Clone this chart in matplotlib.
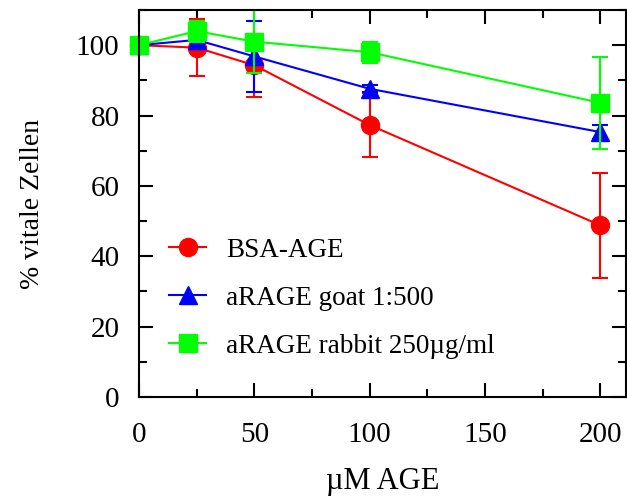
import matplotlib.pyplot as plt
from matplotlib.ticker import MultipleLocator

plt.rcParams['font.family'] = ['Liberation Serif', 'DejaVu Serif']

# concentrations (uM AGE)
conc = [0, 25, 50, 100, 200]

# % viable cells with errors
bsa_age = [100, 99.3, 94.3, 77.3, 48.8]
bsa_age_err = [0, 8.2, 9, 9, 15]
goat = [100, 101.5, 96.8, 87.6, 75.3]
goat_err = [0, 2.5, 10, 1, 2]
rabbit = [100, 104, 101, 98, 83.6]
rabbit_err = [0, 3, 9, 3, 13]

labels = ['BSA-AGE', 'aRAGE goat 1:500', 'aRAGE rabbit 250\u00b5g/ml']
colors = ['#ff0000', '#0000ff', '#00ff00']
markers = ['o', '^', 's']

fig = plt.figure(figsize=(6.27, 4.99), dpi=100)
ax = fig.add_axes([139 / 627, 1 - 397 / 499, 1 - 139 / 627 - 0.002, (397 - 10) / 499])

series = [(bsa_age, bsa_age_err), (goat, goat_err), (rabbit, rabbit_err)]
for (vals, errs), lab, col, mk in zip(series, labels, colors, markers):
    ax.errorbar(conc, vals, yerr=errs, fmt='none', ecolor=col,
                elinewidth=1.5, capsize=6, capthick=1.5, clip_on=False)
    ax.plot(conc, vals, color=col, marker=mk, markersize=13, linewidth=1.5,
            label=lab, clip_on=False)

ax.set_xlim(0, 211)
ax.set_ylim(0, 110)
ax.xaxis.set_major_locator(MultipleLocator(50))
ax.xaxis.set_minor_locator(MultipleLocator(25))
ax.yaxis.set_major_locator(MultipleLocator(20))
ax.yaxis.set_minor_locator(MultipleLocator(10))
ax.tick_params(which='both', direction='in', top=True, right=True, width=1.5, labelsize=21)
ax.tick_params(which='major', length=10)
ax.tick_params(which='minor', length=6)
ax.tick_params(axis='x', which='major', pad=18)
ax.tick_params(axis='y', which='major', pad=14)
for s in ax.spines.values():
    s.set_linewidth(1.5)

ax.set_xlabel('\u00b5M AGE', fontsize=22, labelpad=14)
ax.set_ylabel('% vitale Zellen', fontsize=20, labelpad=22)

ax.legend(loc='upper left', bbox_to_anchor=(0.04, 0.44), frameon=False, fontsize=19.5,
          handlelength=1.35, handletextpad=0.75, labelspacing=0.85, borderaxespad=0)

fig.savefig('out.png', dpi=100)
